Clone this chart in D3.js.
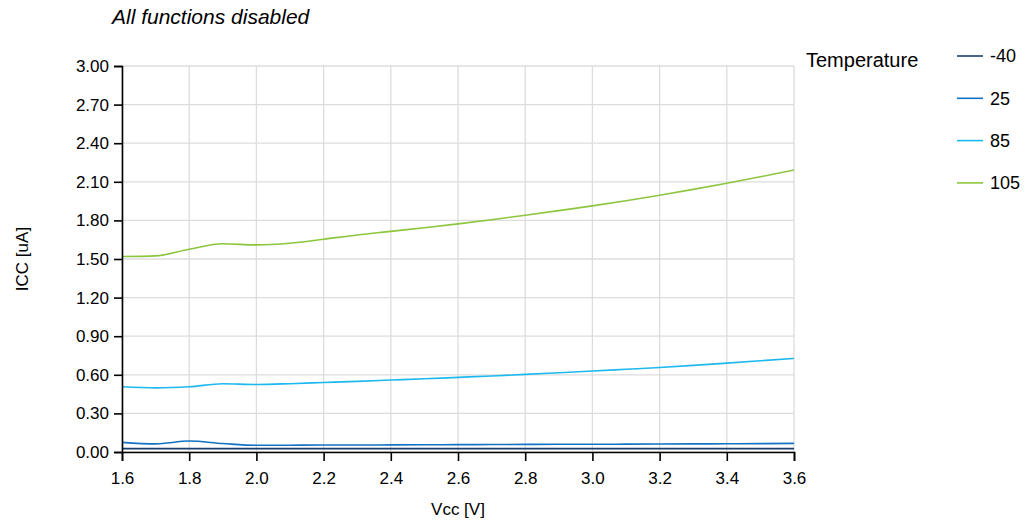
<!DOCTYPE html>
<html>
<head>
<meta charset="utf-8">
<script src="https://cdn.jsdelivr.net/npm/d3@7"></script>
<style>
    body { margin: 0; background: #fff; }
    svg text { font-family: "Liberation Sans", Arial, sans-serif; fill: #000; }
</style>
</head>
<body>
<div id="chart"></div>
<script>
// supply voltage samples
var vcc = [1.6, 1.7, 1.8, 1.9, 2.0, 2.1, 2.2, 2.3, 2.4, 2.5, 2.6, 2.7, 2.8, 2.9, 3.0, 3.1, 3.2, 3.3, 3.4, 3.5, 3.6];

// current per temperature, uA
var iccM40 = [0.026, 0.026, 0.026, 0.026, 0.026, 0.026, 0.026, 0.026, 0.026, 0.026, 0.026, 0.026, 0.026, 0.026, 0.026, 0.026, 0.026, 0.026, 0.026, 0.026, 0.026];
var icc25 = [0.075, 0.063, 0.085, 0.066, 0.052, 0.053, 0.054, 0.054, 0.055, 0.056, 0.057, 0.058, 0.059, 0.060, 0.060, 0.061, 0.062, 0.063, 0.064, 0.065, 0.067];
var icc85 = [0.507, 0.498, 0.507, 0.530, 0.525, 0.531, 0.540, 0.549, 0.559, 0.569, 0.580, 0.591, 0.603, 0.616, 0.629, 0.643, 0.657, 0.673, 0.691, 0.709, 0.727];
var icc105 = [1.519, 1.524, 1.576, 1.618, 1.610, 1.623, 1.654, 1.687, 1.715, 1.743, 1.773, 1.805, 1.840, 1.876, 1.913, 1.953, 1.996, 2.041, 2.089, 2.139, 2.192];

var temperatures = ['-40', '25', '85', '105'];
var colors = ['#1b3d6d', '#1472c2', '#1db9ee', '#8cc63e'];

var xTicks = [1.6, 1.8, 2.0, 2.2, 2.4, 2.6, 2.8, 3.0, 3.2, 3.4, 3.6];
var yTicks = [0, 0.3, 0.6, 0.9, 1.2, 1.5, 1.8, 2.1, 2.4, 2.7, 3.0];

var width = 1027, height = 525;
var margin = { left: 122, right: 233, top: 66, bottom: 73 };

var svg = d3.select('#chart').append('svg')
    .attr('width', width)
    .attr('height', height);

var x = d3.scaleLinear().domain([1.6, 3.6]).range([margin.left, width - margin.right]);
var y = d3.scaleLinear().domain([0, 3]).range([height - margin.bottom, margin.top]);

// grid
var grid = svg.append('g').attr('stroke', '#dcdcdc').attr('stroke-width', 1.3);
grid.selectAll('line.h').data(yTicks).enter().append('line')
    .attr('x1', x(1.6)).attr('x2', x(3.6))
    .attr('y1', function (d) { return y(d); })
    .attr('y2', function (d) { return y(d); });
grid.selectAll('line.v').data(xTicks).enter().append('line')
    .attr('y1', y(0)).attr('y2', y(3))
    .attr('x1', function (d) { return x(d); })
    .attr('x2', function (d) { return x(d); });

// series
var series = [iccM40, icc25, icc85, icc105];
var line = d3.line()
    .x(function (d) { return x(d[0]); })
    .y(function (d) { return y(d[1]); })
    .curve(d3.curveMonotoneX);

svg.append('g').selectAll('path')
    .data(series)
    .enter().append('path')
    .attr('fill', 'none')
    .attr('stroke', function (d, i) { return colors[i]; })
    .attr('stroke-width', 1.6)
    .attr('d', function (vals) { return line(vcc.map(function (v, i) { return [v, vals[i]]; })); });

// axes
var xAxis = svg.append('g')
    .attr('transform', 'translate(0,' + y(0) + ')')
    .call(d3.axisBottom(x).tickValues(xTicks).tickFormat(d3.format('.1f')).tickSize(9).tickPadding(11));
var yAxis = svg.append('g')
    .attr('transform', 'translate(' + x(1.6) + ',0)')
    .call(d3.axisLeft(y).tickValues(yTicks).tickFormat(d3.format('.2f')).tickSize(8).tickPadding(5));

[xAxis, yAxis].forEach(function (a) {
    a.select('.domain').attr('stroke', '#000').attr('stroke-width', 1.6);
    a.selectAll('.tick line').attr('stroke', '#000').attr('stroke-width', 1.6);
    a.selectAll('.tick text').style('font-size', '17px').attr('fill', '#000');
});

// titles
svg.append('text')
    .attr('x', 112).attr('y', 24)
    .style('font-size', '21px').style('font-style', 'italic')
    .text('All functions disabled');

svg.append('text')
    .attr('x', x(2.6)).attr('y', 515)
    .attr('text-anchor', 'middle')
    .style('font-size', '17px')
    .text('Vcc [V]');

svg.append('text')
    .attr('transform', 'translate(28,' + y(1.5) + ') rotate(-90)')
    .attr('text-anchor', 'middle')
    .style('font-size', '17px')
    .text('ICC [uA]');

// legend
svg.append('text')
    .attr('x', 806).attr('y', 67)
    .style('font-size', '20px')
    .text('Temperature');

var legend = svg.selectAll('g.legend')
    .data(temperatures)
    .enter().append('g')
    .attr('class', 'legend')
    .attr('transform', function (d, i) { return 'translate(957,' + (56 + i * 42.3) + ')'; });

legend.append('line')
    .attr('x1', 0).attr('x2', 26)
    .attr('stroke', function (d, i) { return colors[i]; })
    .attr('stroke-width', 1.6);

legend.append('text')
    .attr('x', 33).attr('dy', '0.35em')
    .style('font-size', '18px')
    .text(function (d) { return d; });
</script>
</body>
</html>
